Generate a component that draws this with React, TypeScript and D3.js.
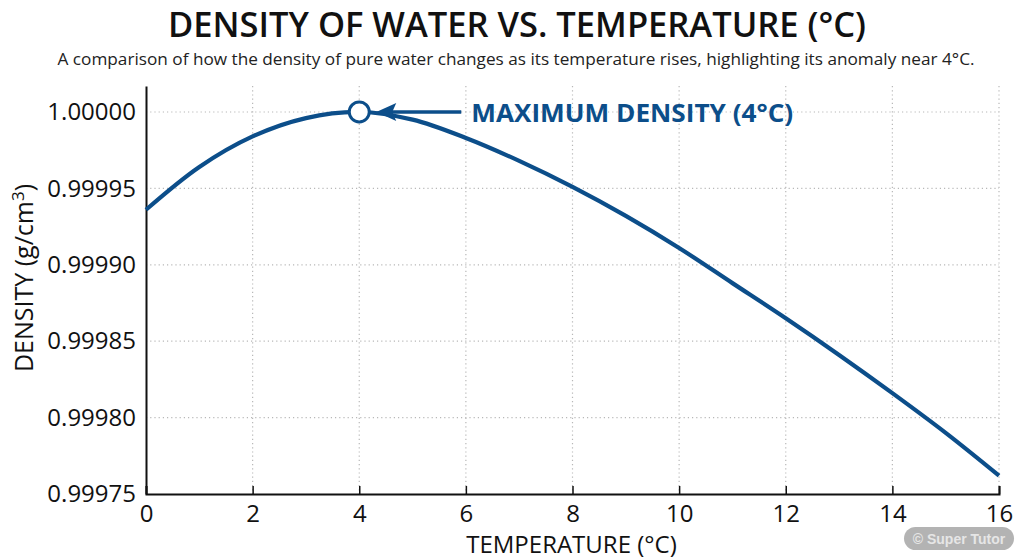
import { useEffect, useRef } from "react";
import * as d3 from "d3";

const temperatures = [0, 1, 2, 3, 4, 5, 6, 7, 8, 9, 10, 11, 12, 13, 14, 15, 16];
const densities = [
  0.999936, 0.999964, 0.999984, 0.999996, 1.0, 0.999995, 0.999983, 0.999968,
  0.999951, 0.999932, 0.999911, 0.999888, 0.999865, 0.999841, 0.999816, 0.99979,
  0.999762,
];
const xTicks = [0, 2, 4, 6, 8, 10, 12, 14, 16];
const yTicks = [0.99975, 0.9998, 0.99985, 0.9999, 0.99995, 1.0];
const maxPoint = { t: 4, d: 1.0, label: "MAXIMUM DENSITY (4°C)" };

export default function App() {
  const svgRef = useRef<SVGSVGElement>(null);

  useEffect(() => {
    const width = 1024;
    const height = 559;
    const marginLeft = 146;
    const marginRight = 25;
    const marginTop = 86;
    const marginBottom = 65;
    const blue = "#0c4e8a";
    const font = "'Open Sans', sans-serif";

    const x = d3.scaleLinear().domain([0, 16]).range([marginLeft, width - marginRight]);
    const y = d3.scaleLinear().domain([0.99975, 1.000017]).range([height - marginBottom, marginTop]);

    const svg = d3.select(svgRef.current)
      .attr("viewBox", [0, 0, width, height])
      .attr("width", width)
      .attr("height", height);
    svg.selectAll("*").remove();

    svg.append("rect").attr("width", width).attr("height", height).attr("fill", "#fff");

    // titles
    svg.append("text")
      .attr("x", 517).attr("y", 37)
      .attr("text-anchor", "middle")
      .attr("font-family", font).attr("font-weight", 600).attr("font-size", 34)
      .attr("textLength", 698).attr("lengthAdjust", "spacingAndGlyphs")
      .attr("fill", "#111")
      .text("DENSITY OF WATER VS. TEMPERATURE (°C)");
    svg.append("text")
      .attr("x", 516).attr("y", 65)
      .attr("text-anchor", "middle")
      .attr("font-family", font).attr("font-size", 15.5)
      .attr("textLength", 917).attr("lengthAdjust", "spacingAndGlyphs")
      .attr("fill", "#222")
      .text("A comparison of how the density of pure water changes as its temperature rises, highlighting its anomaly near 4°C.");

    // grid
    const grid = svg.append("g").attr("stroke", "#b8b8b8").attr("stroke-width", 1.2).attr("stroke-dasharray", "1.2,3");
    grid.selectAll("line.v")
      .data(xTicks.filter(t => t > 0))
      .enter().append("line")
      .attr("x1", d => x(d)).attr("x2", d => x(d))
      .attr("y1", marginTop).attr("y2", height - marginBottom);
    grid.selectAll("line.h")
      .data(yTicks.filter(t => t > 0.99975))
      .enter().append("line")
      .attr("x1", marginLeft).attr("x2", width - marginRight)
      .attr("y1", d => y(d)).attr("y2", d => y(d));

    // axes
    const xAxis = svg.append("g")
      .attr("transform", `translate(0,${height - marginBottom})`)
      .call(d3.axisBottom(x).tickValues(xTicks).tickSize(-8).tickFormat(d3.format("d")));
    xAxis.select(".domain").attr("stroke", "#111").attr("stroke-width", 2);
    xAxis.selectAll(".tick line").attr("stroke", "#111").attr("stroke-width", 1.5);
    xAxis.selectAll(".tick text")
      .attr("font-family", font).attr("font-size", 24).attr("fill", "#111")
      .attr("y", 28).attr("dy", 0);

    const yAxis = svg.append("g")
      .attr("transform", `translate(${marginLeft},0)`)
      .call(d3.axisLeft(y).tickValues(yTicks).tickSize(0).tickPadding(10).tickFormat(d3.format(".5f")));
    yAxis.select(".domain").attr("stroke", "#111").attr("stroke-width", 2);
    yAxis.selectAll(".tick text")
      .attr("font-family", font).attr("font-size", 24).attr("fill", "#111");

    // axis titles
    svg.append("text")
      .attr("x", x(8) - 1).attr("y", 553)
      .attr("text-anchor", "middle")
      .attr("font-family", font).attr("font-size", 24).attr("fill", "#111")
      .text("TEMPERATURE (°C)");
    const yTitle = svg.append("text")
      .attr("transform", `translate(33,278) rotate(-90)`)
      .attr("text-anchor", "middle")
      .attr("font-family", font).attr("font-size", 25).attr("fill", "#111");
    yTitle.append("tspan").text("DENSITY (g/cm");
    yTitle.append("tspan").attr("font-size", 17).attr("dy", -9).text("3");
    yTitle.append("tspan").attr("dy", 9).text(")");

    // curve
    const line = d3.line<number>()
      .x((_, i) => x(temperatures[i]))
      .y(d => y(d))
      .curve(d3.curveCatmullRom);
    svg.append("path")
      .datum(densities)
      .attr("d", line)
      .attr("fill", "none")
      .attr("stroke", blue)
      .attr("stroke-width", 4.2);

    // annotation
    const cx = x(maxPoint.t);
    const cy = y(maxPoint.d);
    svg.append("line")
      .attr("x1", cx + 30).attr("x2", cx + 102)
      .attr("y1", cy).attr("y2", cy)
      .attr("stroke", blue).attr("stroke-width", 3.5);
    svg.append("path")
      .attr("d", `M${cx + 17},${cy} L${cx + 37},${cy - 9} L${cx + 33},${cy} L${cx + 37},${cy + 9} Z`)
      .attr("fill", blue);
    svg.append("circle")
      .attr("cx", cx).attr("cy", cy).attr("r", 10)
      .attr("fill", "#fff").attr("stroke", blue).attr("stroke-width", 3);
    svg.append("text")
      .attr("x", cx + 112).attr("y", cy + 10)
      .attr("font-family", font).attr("font-weight", 700).attr("font-size", 25)
      .attr("textLength", 322).attr("lengthAdjust", "spacingAndGlyphs")
      .attr("fill", blue)
      .text(maxPoint.label);

    // watermark
    svg.append("rect")
      .attr("x", 904).attr("y", 527).attr("width", 110).attr("height", 23).attr("rx", 11.5)
      .attr("fill", "#b3b3b3");
    svg.append("text")
      .attr("x", 959).attr("y", 543.5)
      .attr("text-anchor", "middle")
      .attr("font-family", "'Liberation Sans', Arial, sans-serif").attr("font-weight", 700).attr("font-size", 14)
      .attr("fill", "#e6e6e6")
      .text("© Super Tutor");
  }, []);

  return (
    <svg ref={svgRef} style={{ position: "absolute", left: 0, top: 0, display: "block" }}></svg>
  );
}
